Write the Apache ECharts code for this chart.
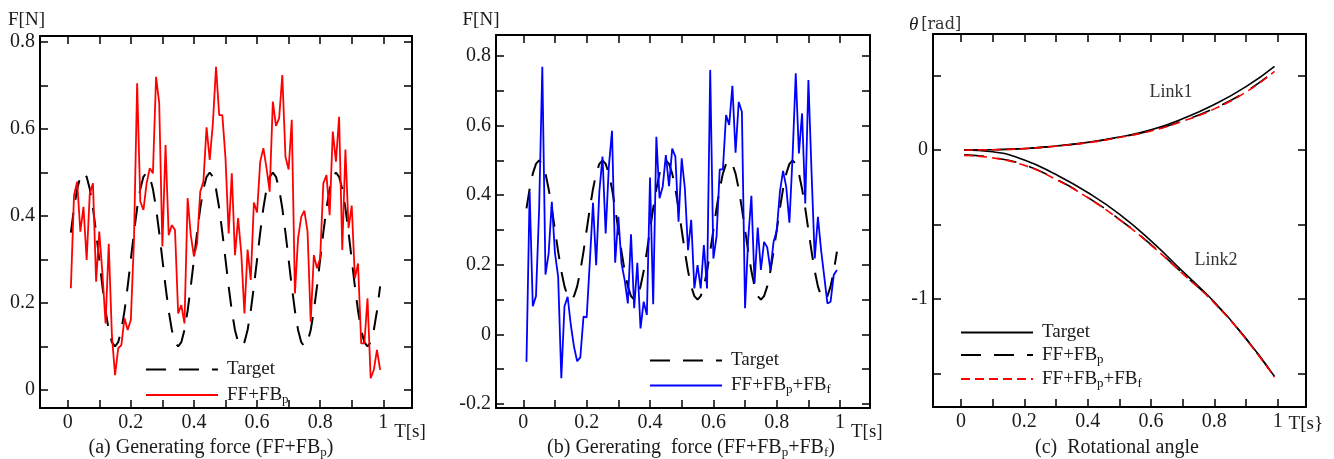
<!DOCTYPE html>
<html>
<head>
<meta charset="utf-8">
<script src="https://cdn.jsdelivr.net/npm/echarts@6/dist/echarts.min.js"></script>
<style>
html, body { margin: 0; padding: 0; background: #fff; }
#main { width: 1334px; height: 459px; }
</style>
</head>
<body>
<div id="main"></div>
<script>
// time axis of panels (a) and (b)
var T = [0.01,0.02,0.03,0.04,0.05,0.06,0.07,0.08,0.09,0.10,
         0.11,0.12,0.13,0.14,0.15,0.16,0.17,0.18,0.19,0.20,
         0.21,0.22,0.23,0.24,0.25,0.26,0.27,0.28,0.29,0.30,
         0.31,0.32,0.33,0.34,0.35,0.36,0.37,0.38,0.39,0.40,
         0.41,0.42,0.43,0.44,0.45,0.46,0.47,0.48,0.49,0.50,
         0.51,0.52,0.53,0.54,0.55,0.56,0.57,0.58,0.59,0.60,
         0.61,0.62,0.63,0.64,0.65,0.66,0.67,0.68,0.69,0.70,
         0.71,0.72,0.73,0.74,0.75,0.76,0.77,0.78,0.79,0.80,
         0.81,0.82,0.83,0.84,0.85,0.86,0.87,0.88,0.89,0.90,
         0.91,0.92,0.93,0.94,0.95,0.96,0.97,0.98,0.99];

// target force (dashed)
var target = [0.362,0.418,0.462,0.490,0.500,0.490,0.462,0.418,0.362,0.300,
              0.238,0.182,0.138,0.110,0.100,0.110,0.138,0.182,0.238,0.300,
              0.362,0.418,0.462,0.490,0.500,0.490,0.462,0.418,0.362,0.300,
              0.238,0.182,0.138,0.110,0.100,0.110,0.138,0.182,0.238,0.300,
              0.362,0.418,0.462,0.490,0.500,0.490,0.462,0.418,0.362,0.300,
              0.238,0.182,0.138,0.110,0.100,0.110,0.138,0.182,0.238,0.300,
              0.362,0.418,0.462,0.490,0.500,0.490,0.462,0.418,0.362,0.300,
              0.238,0.182,0.138,0.110,0.100,0.110,0.138,0.182,0.238,0.300,
              0.362,0.418,0.462,0.490,0.500,0.490,0.462,0.418,0.362,0.300,
              0.238,0.182,0.138,0.110,0.100,0.110,0.138,0.182,0.238];

// (a) FF+FBp
var forceA = [0.234,0.448,0.479,0.364,0.421,0.299,0.452,0.475,0.249,0.364,
              0.268,0.153,0.336,0.126,0.034,0.096,0.103,0.165,0.138,0.161,
              0.345,0.705,0.433,0.414,0.475,0.510,0.498,0.720,0.659,0.330,
              0.563,0.356,0.379,0.368,0.176,0.195,0.153,0.441,0.356,0.307,
              0.337,0.456,0.479,0.604,0.529,0.613,0.743,0.632,0.632,0.533,
              0.360,0.498,0.310,0.395,0.314,0.176,0.323,0.253,0.431,0.408,
              0.525,0.556,0.510,0.456,0.663,0.607,0.625,0.724,0.536,0.507,
              0.621,0.222,0.349,0.398,0.412,0.364,0.157,0.310,0.280,0.303,
              0.475,0.494,0.402,0.594,0.525,0.628,0.322,0.553,0.372,0.424,
              0.257,0.291,0.107,0.107,0.211,0.027,0.046,0.092,0.046];

// (b) FF+FBp+FBf
var forceB = [-0.079,0.410,0.081,0.110,0.362,0.769,0.172,0.233,0.381,0.233,
              0.166,-0.126,0.081,0.108,0.027,-0.035,-0.077,-0.066,0.051,0.049,
              0.209,0.378,0.199,0.410,0.511,0.290,0.482,0.585,0.206,0.338,
              0.204,0.156,0.089,0.288,0.075,0.206,0.017,0.094,0.056,0.451,
              0.087,0.568,0.391,0.424,0.515,0.426,0.534,0.511,0.324,0.506,
              0.420,0.242,0.329,0.132,0.199,0.132,0.257,0.132,0.760,0.218,
              0.281,0.474,0.474,0.630,0.602,0.714,0.522,0.668,0.640,0.075,
              0.276,0.398,0.147,0.307,0.185,0.266,0.250,0.185,0.266,0.298,
              0.410,0.470,0.424,0.321,0.511,0.750,0.520,0.635,0.376,0.731,
              0.463,0.218,0.338,0.242,0.166,0.089,0.094,0.171,0.185];

// (c) rotational angle
var Tc = [0.01,0.1,0.2,0.3,0.4,0.5,0.6,0.7,0.8,0.9,0.99];
var link1Target = [0,0.002,0.009,0.027,0.051,0.087,0.135,0.210,0.305,0.425,0.562];
var link1FFp    = [0,0.002,0.009,0.027,0.050,0.085,0.130,0.196,0.280,0.392,0.530];
var link1FFpf   = [0,0.002,0.009,0.026,0.049,0.084,0.128,0.193,0.276,0.389,0.527];
var link2Target = [0,-0.012,-0.067,-0.165,-0.285,-0.430,-0.610,-0.815,-1.020,-1.265,-1.520];
var link2FFp    = [-0.033,-0.050,-0.100,-0.195,-0.318,-0.465,-0.635,-0.828,-1.025,-1.267,-1.522];
var link2FFpf   = [-0.036,-0.053,-0.103,-0.198,-0.320,-0.467,-0.638,-0.830,-1.027,-1.270,-1.525];

// ticks and labels
var xTicks  = [0,0.1,0.2,0.3,0.4,0.5,0.6,0.7,0.8,0.9,1];
var xLabels = [0,0.2,0.4,0.6,0.8,1];
var yTicksA  = [0,0.1,0.2,0.3,0.4,0.5,0.6,0.7,0.8];
var yLabelsA = [0,0.2,0.4,0.6,0.8];
var yTicksB  = [-0.2,-0.1,0,0.1,0.2,0.3,0.4,0.5,0.6,0.7,0.8];
var yLabelsB = [-0.2,0,0.2,0.4,0.6,0.8];
var yTicksC  = [-1.5,-1,-0.5,0,0.5];
var yLabelsC = [-1,0];

var FONT = 'Liberation Serif';
var INK = '#1a1a1a';

function pairs(xs, ys) {
    return xs.map(function (x, i) { return [x, ys[i]]; });
}

var rich = {
    n: { fontFamily: FONT, fontSize: 19, fontWeight: 'normal', color: INK, lineHeight: 20 },
    s: { fontFamily: FONT, fontSize: 13, fontWeight: 'normal', color: INK, lineHeight: 20, padding: [9, 0, 0, 0] }
};
var legendText = {
    a_t: '{n|Target}', a_f: '{n|FF+FB}{s|p}',
    b_t: '{n|Target}', b_f: '{n|FF+FB}{s|p}{n|+FB}{s|f}',
    c_t: '{n|Target}', c_p: '{n|FF+FB}{s|p}', c_pf: '{n|FF+FB}{s|p}{n|+FB}{s|f}'
};

// one axis of the box frame, ticks inside
function axis(grid, pos, min, max, ticks, labels, name, nameOpt) {
    var a = {
        type: 'value', gridIndex: grid, position: pos, min: min, max: max,
        axisLine: { onZero: false, lineStyle: { color: '#000', width: 2 } },
        axisTick: { inside: true, length: 8, customValues: ticks, lineStyle: { color: '#000', width: 1.5 } },
        axisLabel: { show: !!labels, customValues: labels || [], margin: 5,
            fontFamily: FONT, fontSize: 20, fontWeight: 'normal', color: INK },
        splitLine: { show: false }
    };
    if (name) {
        a.name = name;
        a.nameLocation = 'end';
        for (var k in nameOpt) a[k] = nameOpt[k];
    }
    return a;
}

function xName(gap, padTop) {
    return { nameGap: gap, nameTextStyle: { fontFamily: FONT, fontSize: 19, color: INK,
        align: 'center', verticalAlign: 'top', padding: [padTop, 0, 0, 0] } };
}

var chart = echarts.init(document.getElementById('main'));

var option = {
    animation: false,
    backgroundColor: '#fff',
    textStyle: { fontFamily: FONT },
    grid: [
        { left: 40, top: 36, width: 372, height: 372 },
        { left: 496, top: 35, width: 374, height: 373 },
        { left: 933, top: 34, width: 373, height: 373 }
    ],
    xAxis: [
        axis(0, 'bottom', -0.0878, 1.091, xTicks, xLabels, 'T[s]', xName(-4.5, 15)),
        axis(0, 'top', -0.0878, 1.091, xTicks, null),
        axis(1, 'bottom', -0.0862, 1.0944, xTicks, xLabels, 'T[s]', xName(-7, 15)),
        axis(1, 'top', -0.0862, 1.0944, xTicks, null),
        axis(2, 'bottom', -0.0884, 1.0894, xTicks, xLabels, 'T[s}', xName(-5, 8)),
        axis(2, 'top', -0.0884, 1.0894, xTicks, null)
    ],
    yAxis: [
        axis(0, 'left', -0.0414, 0.8138, yTicksA, yLabelsA, 'F[N]',
            { nameGap: 6, nameTextStyle: { fontFamily: FONT, fontSize: 19, color: INK, align: 'center', padding: [0, 27, 0, 0] } }),
        axis(0, 'right', -0.0414, 0.8138, yTicksA, null),
        axis(1, 'left', -0.2115, 0.8603, yTicksB, yLabelsB, 'F[N]',
            { nameGap: 5, nameTextStyle: { fontFamily: FONT, fontSize: 19, color: INK, align: 'center', padding: [0, 30, 0, 0] } }),
        axis(1, 'right', -0.2115, 0.8603, yTicksB, null),
        axis(2, 'left', -1.7248, 0.7785, yTicksC, yLabelsC, '{i|θ} {n|[rad]}',
            { nameGap: 0, nameTextStyle: { align: 'center', padding: [0, 0, 0, 4],
                rich: { i: { fontFamily: FONT, fontStyle: 'italic', fontSize: 19, color: INK },
                        n: { fontFamily: 'DejaVu Serif', fontSize: 16, color: '#333' } } } }),
        axis(2, 'right', -1.7248, 0.7785, yTicksC, null)
    ],
    legend: [
        { left: 140, top: 355, orient: 'vertical', itemWidth: 72, itemHeight: 14, itemGap: 5,
          data: ['a_t', 'a_f'] },
        { left: 644, top: 346, orient: 'vertical', itemWidth: 72, itemHeight: 14, itemGap: 4.5,
          data: ['b_t', 'b_f'] },
        { left: 955, top: 318, orient: 'vertical', itemWidth: 72, itemHeight: 14, itemGap: 2,
          data: ['c_t', 'c_p', 'c_pf'] }
    ].map(function (l) {
        l.selectedMode = false;
        l.formatter = function (name) { return legendText[name]; };
        l.textStyle = { padding: [0, 0, 0, 4], rich: rich };
        l.itemStyle = { opacity: 0 };
        return l;
    }),
    title: [
        { text: '{n|(a) Generating force (FF+FB}{s|p}{n|)}', left: 211, top: 438 },
        { text: '{n|(b) Gererating  force (FF+FB}{s|p}{n|+FB}{s|f}{n|)}', left: 691, top: 438 },
        { text: '{n|(c)  Rotational angle}', left: 1117, top: 438 }
    ].map(function (t) {
        t.textAlign = 'center';
        t.padding = 0;
        t.textStyle = { fontWeight: 'normal', rich: {
            n: { fontFamily: FONT, fontSize: 20, fontWeight: 'normal', color: INK, lineHeight: 20 },
            s: { fontFamily: FONT, fontSize: 13, fontWeight: 'normal', color: INK, lineHeight: 20, padding: [9, 0, 0, 0] }
        } };
        return t;
    }),
    series: [
        { name: 'a_t', type: 'line', xAxisIndex: 0, yAxisIndex: 0, data: pairs(T, target),
          symbol: 'none', itemStyle: { color: '#000' },
          lineStyle: { color: '#000', width: 2, type: [20, 13] } },
        { name: 'a_f', type: 'line', xAxisIndex: 0, yAxisIndex: 0, data: pairs(T, forceA),
          symbol: 'none', itemStyle: { color: '#ff0000' },
          lineStyle: { color: '#ff0000', width: 1.8 } },

        { name: 'b_t', type: 'line', xAxisIndex: 2, yAxisIndex: 2, data: pairs(T, target),
          symbol: 'none', itemStyle: { color: '#000' },
          lineStyle: { color: '#000', width: 2, type: [20, 13] } },
        { name: 'b_f', type: 'line', xAxisIndex: 2, yAxisIndex: 2, data: pairs(T, forceB),
          symbol: 'none', itemStyle: { color: '#0000ff' },
          lineStyle: { color: '#0000ff', width: 1.8 } },

        { name: 'c_t', type: 'line', xAxisIndex: 4, yAxisIndex: 4, data: pairs(Tc, link1Target),
          symbol: 'none', smooth: true, itemStyle: { color: '#000' },
          lineStyle: { color: '#000', width: 1.6 },
          markPoint: { symbol: 'circle', symbolSize: 1, itemStyle: { color: 'rgba(0,0,0,0)' },
              label: { show: true, position: 'inside', fontFamily: FONT, fontSize: 18, color: '#333',
                       formatter: function (p) { return p.name; } },
              data: [{ name: 'Link1', coord: [0.663, 0.389] }, { name: 'Link2', coord: [0.805, -0.743] }] } },
        { name: 'c_t', type: 'line', xAxisIndex: 4, yAxisIndex: 4, data: pairs(Tc, link2Target),
          symbol: 'none', smooth: true, itemStyle: { color: '#000' },
          lineStyle: { color: '#000', width: 1.6 } },
        { name: 'c_p', type: 'line', xAxisIndex: 4, yAxisIndex: 4, data: pairs(Tc, link1FFp),
          symbol: 'none', smooth: true, itemStyle: { color: '#000' },
          lineStyle: { color: '#000', width: 1.6, type: [20, 13] } },
        { name: 'c_p', type: 'line', xAxisIndex: 4, yAxisIndex: 4, data: pairs(Tc, link2FFp),
          symbol: 'none', smooth: true, itemStyle: { color: '#000' },
          lineStyle: { color: '#000', width: 1.6, type: [20, 13] } },
        { name: 'c_pf', type: 'line', xAxisIndex: 4, yAxisIndex: 4, data: pairs(Tc, link1FFpf),
          symbol: 'none', smooth: true, itemStyle: { color: '#ff0000' },
          lineStyle: { color: '#ff0000', width: 1.6, type: [9, 5] } },
        { name: 'c_pf', type: 'line', xAxisIndex: 4, yAxisIndex: 4, data: pairs(Tc, link2FFpf),
          symbol: 'none', smooth: true, itemStyle: { color: '#ff0000' },
          lineStyle: { color: '#ff0000', width: 1.6, type: [9, 5] } }
    ]
};

chart.setOption(option);
</script>
</body>
</html>
